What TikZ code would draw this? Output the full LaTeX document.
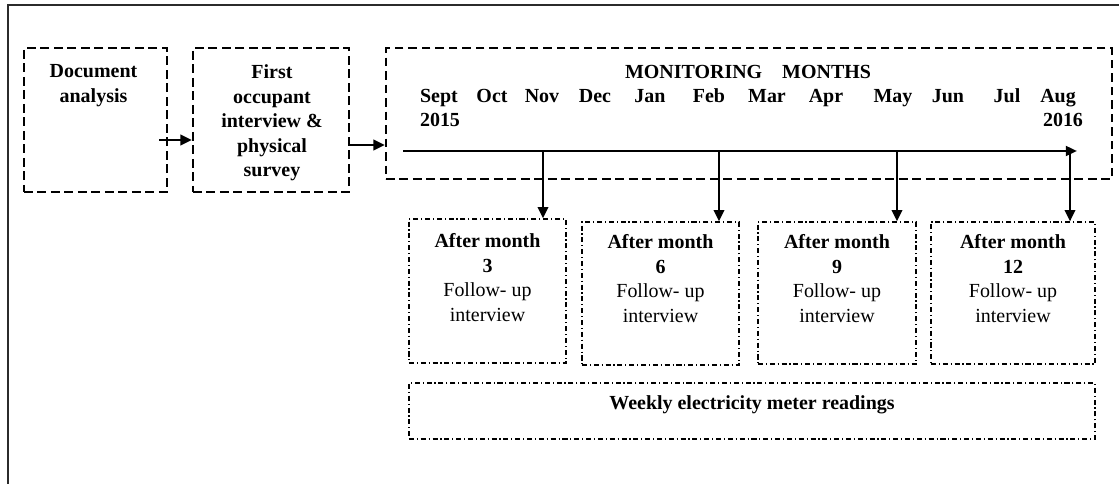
\documentclass[tikz,border=0pt]{standalone}
\usepackage{fontspec}
\setmainfont{Liberation Serif}
\usetikzlibrary{arrows.meta,positioning}
\definecolor{framegray}{HTML}{2B2B2B}
\tikzset{
  stagebox/.style={draw, line width=1.8pt, dash pattern=on 6.2pt off 3.4pt, minimum height=3.6cm, inner sep=0pt},
  followbox/.style={draw, line width=0.9pt, dash pattern=on 3.6pt off 2pt on 0.8pt off 2pt, minimum height=3.575cm, inner sep=0pt},
  boxtext/.style={align=center, inner sep=0pt, anchor=north},
  month/.style={font=\bfseries, anchor=base, inner sep=0pt},
  flow/.style={-{Triangle[length=8pt,width=7.5pt]}, line width=1.4pt},
  timeline/.style={-{Triangle[length=8pt,width=7pt]}, line width=1.8pt}
}
\begin{document}
\fontsize{14.2pt}{17.4pt}\selectfont
\begin{tikzpicture}[x=0.025cm, y=-0.025cm]
  \useasboundingbox (0,0) rectangle (1119,484);
  % outer frame
  \draw[framegray, line width=1.4pt] (8,490) -- (8,5) -- (1125,5);

  % stages before monitoring
  \node[stagebox, minimum width=3.575cm] (doc) at (95.5,120) {};
  \node[boxtext, font=\bfseries] (doctext) at ([shift={(-2,17.6)}]doc.north) {Document\\analysis};
  \node[stagebox, minimum width=3.9cm] (survey) at (271,120) {};
  \node[boxtext, font=\bfseries] (surveytext) at ([shift={(1,18)}]survey.north) {First\\occupant\\interview \&\\physical\\survey};

  % monitoring months
  \node[stagebox, minimum width=18.15cm, minimum height=3.275cm] (monitor) at (749,113.5) {};
  \node[month] (heading) at (748,79) {MONITORING\hspace{0.5cm}MONTHS};
  \foreach \m/\x in {Sept/439, Oct/492, Nov/542, Dec/595, Jan/650, Feb/709, Mar/767, Apr/826, May/893, Jun/948, Jul/1007, Aug/1058}
    \node[month] (m-\m) at (\x,103) {\m};
  \node[month] (y2015) at (440,127) {2015};
  \node[month] (y2016) at (1063,127) {2016};
  \coordinate (tstart) at (403,151);
  \coordinate (tend) at (1077,151);
  \draw[timeline] (tstart) -- (tend);

  \draw[flow] ([shift={(-9,20)}]doc.east) -- ([shift={(0,20)}]survey.west);
  \draw[flow] ([shift={(0,25)}]survey.east) coordinate (a2) -- (a2 -| monitor.west);

  % follow-up interviews
  \node[followbox, minimum width=3.925cm, minimum height=3.6cm] (after3) at (487.5,291) {};
  \node[followbox, minimum width=3.925cm] (after6) at (660.5,293.5) {};
  \node[followbox, minimum width=3.95cm, minimum height=3.55cm] (after9) at (837,293) {};
  \node[followbox, minimum width=4.1cm, minimum height=3.55cm] (after12) at (1013,293) {};
  \foreach \n/\d in {3/15, 6/13, 9/13, 12/13}
    \node[boxtext] (after\n text) at ([shift={(0,\d)}]after\n.north) {\textbf{After month}\\\textbf{\n}\\Follow- up\\interview};
  \foreach \n/\x in {3/543, 6/719, 9/897, 12/1070}{
    \coordinate (t\n) at (\x,151);
    \draw[flow] (t\n) -- (t\n |- after\n.north);
  }

  \node[followbox, minimum width=17.15cm, minimum height=1.4cm] (weekly) at (752,411) {};
  \node[boxtext, font=\bfseries, anchor=base] (weeklytext) at ([shift={(0,-1)}]weekly.center) {Weekly electricity meter readings};
\end{tikzpicture}
\end{document}
